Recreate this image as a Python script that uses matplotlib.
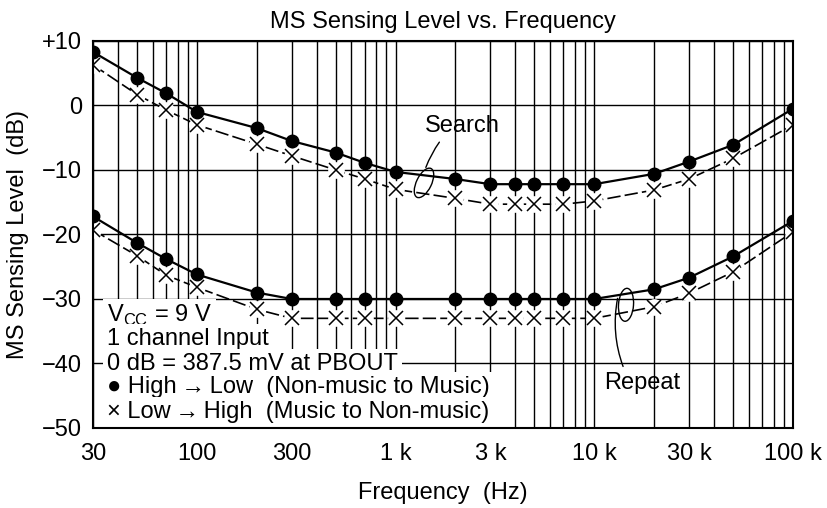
import matplotlib.pyplot as plt
from matplotlib.patches import Ellipse
from matplotlib import transforms

plt.rcParams['font.family'] = ['Liberation Sans', 'DejaVu Sans']
plt.rcParams['mathtext.fontset'] = 'custom'
plt.rcParams['mathtext.rm'] = 'Liberation Sans'

# frequencies (Hz) and sensing levels (dB)
freq = [30, 50, 70, 100, 200, 300, 500, 700, 1000, 2000, 3000, 4000, 5000,
        7000, 10000, 20000, 30000, 50000, 100000]
search_hl = [8.3, 4.3, 1.9, -1.0, -3.5, -5.5, -7.3, -8.9, -10.3, -11.4, -12.2,
             -12.2, -12.2, -12.2, -12.2, -10.6, -8.7, -6.1, -0.5]
search_lh = [6.3, 1.7, -0.7, -3.0, -6.0, -7.8, -10.0, -11.4, -13.0, -14.4,
             -15.3, -15.3, -15.3, -15.3, -14.8, -13.1, -11.4, -8.2, -3.0]
repeat_hl = [-17.2, -21.3, -23.8, -26.2, -29.0, -30.0, -30.0, -30.0, -30.0,
             -30.0, -30.0, -30.0, -30.0, -30.0, -30.0, -28.5, -26.7, -23.4, -17.9]
repeat_lh = [-19.3, -23.3, -26.3, -28.2, -31.6, -33.0, -33.0, -33.0, -33.0,
             -33.0, -33.0, -33.0, -33.0, -33.0, -33.0, -31.2, -29.1, -25.8, -19.6]

xtick_vals = [30, 100, 300, 1000, 3000, 10000, 30000, 100000]
xtick_labels = ["30", "100", "300", "1 k", "3 k", "10 k", "30 k", "100 k"]
ytick_vals = [10, 0, -10, -20, -30, -40, -50]
ytick_labels = ["+10", "0", "\u221210", "\u221220", "\u221230", "\u221240", "\u221250"]

FS = 17

fig = plt.figure(figsize=(8.28, 5.08), dpi=100)
ax = fig.add_axes([0.1123, 0.1575, 0.8454, 0.7618])
ax.set_xscale('log')
ax.set_xlim(30, 100000)
ax.set_ylim(-50, 10)

# grid: every 1-2-3..9 decade line, every 10 dB
grid_x = []
for dec in [10, 100, 1000, 10000]:
    for m in range(1, 10):
        f = m * dec
        if 30 <= f <= 100000:
            grid_x.append(f)
for f in grid_x:
    ax.axvline(f, color='black', lw=1.0, zorder=1)
for v in ytick_vals:
    ax.axhline(v, color='black', lw=1.0, zorder=1)

for hl, lh in [(search_hl, search_lh), (repeat_hl, repeat_lh)]:
    ax.plot(freq, hl, color='black', lw=1.6, marker='o', ms=9, zorder=4)
    ax.plot(freq, lh, color='black', lw=1.2, dashes=(8, 2.5), zorder=3)
    ax.plot(freq, lh, ls='none', marker='o', ms=12, mfc='white', mec='none', zorder=3.5)
    ax.plot(freq, lh, ls='none', marker='x', ms=9.5, mew=1.1, color='black', zorder=4)

ax.set_xticks(xtick_vals)
ax.set_xticklabels(xtick_labels)
ax.xaxis.set_minor_locator(plt.NullLocator())
ax.set_yticks(ytick_vals)
ax.set_yticklabels(ytick_labels)
ax.tick_params(axis='both', length=0, labelsize=FS)
ax.tick_params(axis='x', pad=11)
ax.tick_params(axis='y', pad=8)
for s in ax.spines.values():
    s.set_linewidth(1.5)
    s.set_zorder(5)

ax.set_title("MS Sensing Level vs. Frequency", fontsize=FS, pad=9)
ax.set_xlabel("Frequency  (Hz)", fontsize=FS, labelpad=12)
ax.set_ylabel("MS Sensing Level  (dB)", fontsize=FS, labelpad=9)

# condition notes with white background over the grid
notes = ["V$_{\\rm CC}$ = 9 V", "1 channel Input", "0 dB = 387.5 mV at PBOUT",
         "\u25cf High\u2009\u2192\u2009Low  (Non-music to Music)",
         "\u00d7 Low\u2009\u2192\u2009High  (Music to Non-music)"]
note_y = [0.274, 0.215, 0.150, 0.090, 0.026]
for t, y in zip(notes, note_y):
    ax.text(0.02, y, t, transform=ax.transAxes, fontsize=FS, va='baseline',
            ha='left', zorder=2,
            bbox=dict(boxstyle='square,pad=0.18', fc='white', ec='none'))

# "Search" / "Repeat" callouts
def ring(xd, yd, w, h, ang):
    tr = fig.dpi_scale_trans + transforms.ScaledTranslation(xd, yd, ax.transData)
    ax.add_artist(Ellipse((0, 0), w / 100, h / 100, angle=ang, transform=tr,
                          fill=False, ec='black', lw=1.0, zorder=6))

ring(1390, -12.0, 32, 15, 64)
ax.annotate("Search", xy=(1420, -9.6), xytext=(2157, -3.2), fontsize=FS,
            ha='center', va='center', zorder=6,
            arrowprops=dict(arrowstyle='-', lw=1.0, color='black',
                            shrinkA=2, shrinkB=0, relpos=(0.25, 0.0),
                            connectionstyle='arc3,rad=0.08'))
ring(14445, -30.9, 33, 15, 86)
ax.annotate("Repeat", xy=(13100, -29.9), xytext=(17370, -43.0), fontsize=FS,
            ha='center', va='center', zorder=6,
            arrowprops=dict(arrowstyle='-', lw=1.0, color='black',
                            shrinkA=2, shrinkB=0, relpos=(0.28, 1.0),
                            connectionstyle='arc3,rad=-0.15'))

fig.savefig("out.png", dpi=100)
